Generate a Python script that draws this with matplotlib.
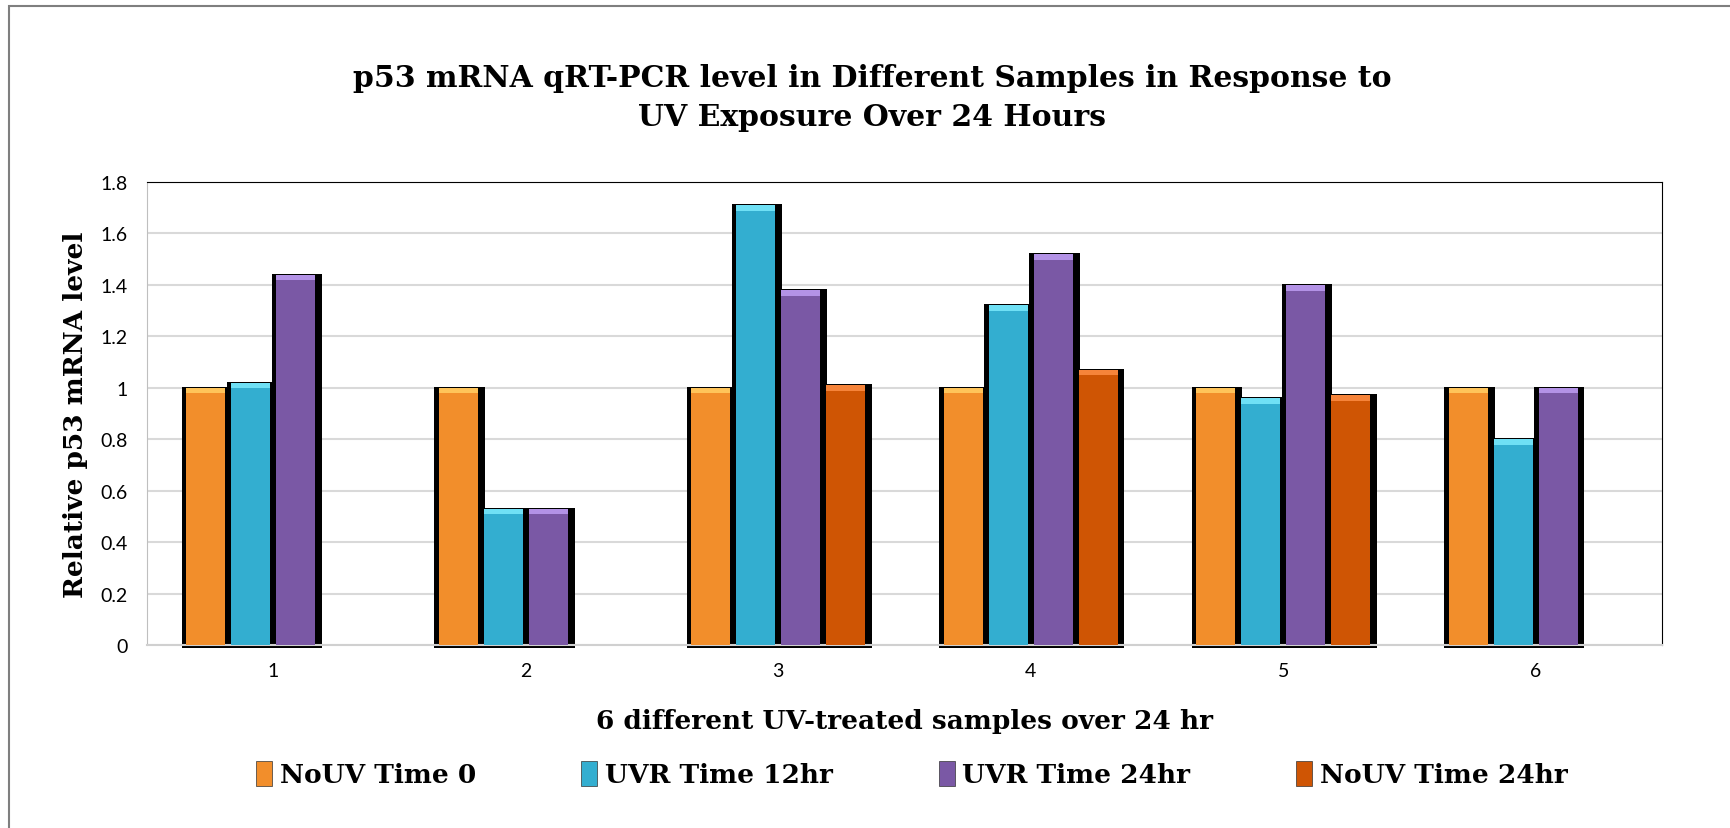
import numpy as np
import matplotlib.pyplot as plt
from matplotlib.patches import Rectangle, Patch

# data
samples = ["1", "2", "3", "4", "5", "6"]
series = ["NoUV Time 0", "UVR Time 12hr", "UVR Time 24hr", "NoUV Time 24hr"]
nouv_0 = [1.0, 1.0, 1.0, 1.0, 1.0, 1.0]
uvr_12 = [1.02, 0.53, 1.71, 1.32, 0.96, 0.80]
uvr_24 = [1.44, 0.53, 1.38, 1.52, 1.40, 1.0]
nouv_24 = [np.nan, np.nan, 1.01, 1.07, 0.97, np.nan]

colors = ["#F28E2B", "#33AED0", "#7A58A5", "#CF5504"]
tops = ["#FFC45A", "#6FE0F5", "#B392E6", "#F6843A"]

serif = ["DejaVu Serif"]
sans = ["Lato", "DejaVu Sans"]

fig = plt.figure(figsize=(17.3, 8.29), dpi=100)
ax = fig.add_axes([0.085, 0.2207, 0.8757, 0.5586])

x = np.arange(len(samples))
slot = 0.178
face_w = 0.155
shadow_w = 0.20
all_vals = [nouv_0, uvr_12, uvr_24, nouv_24]

# black shadows first
for i, vals in enumerate(all_vals):
    v = np.array(vals)
    pos = x + (i - 1.5) * slot
    ax.bar(pos + 0.004, v + 0.016, width=shadow_w, bottom=-0.012,
           color="black", zorder=2, clip_on=False)

# coloured faces with lighter cap
for i, vals in enumerate(all_vals):
    v = np.array(vals)
    pos = x + (i - 1.5) * slot
    ax.bar(pos, v, width=face_w, color=colors[i], zorder=3)
    ax.bar(pos, np.full(len(v), 0.022), bottom=v - 0.022, width=face_w,
           color=tops[i], zorder=4)

ax.set_xlim(-0.5, len(samples) - 0.5)
ax.set_ylim(0, 1.8)
ax.set_yticks(np.arange(0, 1.81, 0.2))
ax.set_yticklabels(["0", "0.2", "0.4", "0.6", "0.8", "1", "1.2", "1.4", "1.6", "1.8"],
                   family=sans, fontsize=14)
ax.set_xticks(x)
ax.set_xticklabels(samples, family=sans, fontsize=14)
ax.tick_params(axis="x", length=0, pad=12)
ax.tick_params(axis="y", length=0, pad=14)
ax.grid(axis="y", color="#D9D9D9", linewidth=1.5, zorder=0)
ax.set_axisbelow(True)

ax.spines["top"].set_color("black")
ax.spines["right"].set_color("black")
ax.spines["left"].set_color("#BFBFBF")
ax.spines["bottom"].set_color("#D0D0D0")
ax.spines["bottom"].set_linewidth(1.5)

ax.set_ylabel("Relative p53 mRNA level", family=serif, fontweight="bold",
              fontsize=19, labelpad=9)
ax.set_xlabel("6 different UV-treated samples over 24 hr", family=serif,
              fontweight="bold", fontsize=19, labelpad=21)

fig.text(0.504, 0.882, "p53 mRNA qRT-PCR level in Different Samples in Response to\nUV Exposure Over 24 Hours",
         ha="center", va="center", family=serif, fontweight="bold", fontsize=21.5,
         linespacing=1.45)

handles = [Patch(facecolor=c, edgecolor="#333333", linewidth=0.5) for c in colors]
fig.legend(handles, series, loc="center", bbox_to_anchor=(0.527, 0.065), ncol=4,
           frameon=False, handlelength=0.6, handleheight=1.1, handletextpad=0.3,
           columnspacing=4.0, prop={"family": serif, "weight": "bold", "size": 19})

# outer chart border
fig.patches.append(Rectangle((9 / 1730, -0.05), 1.2, 1.05 - 7 / 829,
                             transform=fig.transFigure, fill=False,
                             edgecolor="#7F7F7F", linewidth=1.5))

fig.savefig("out.png", dpi=100)
